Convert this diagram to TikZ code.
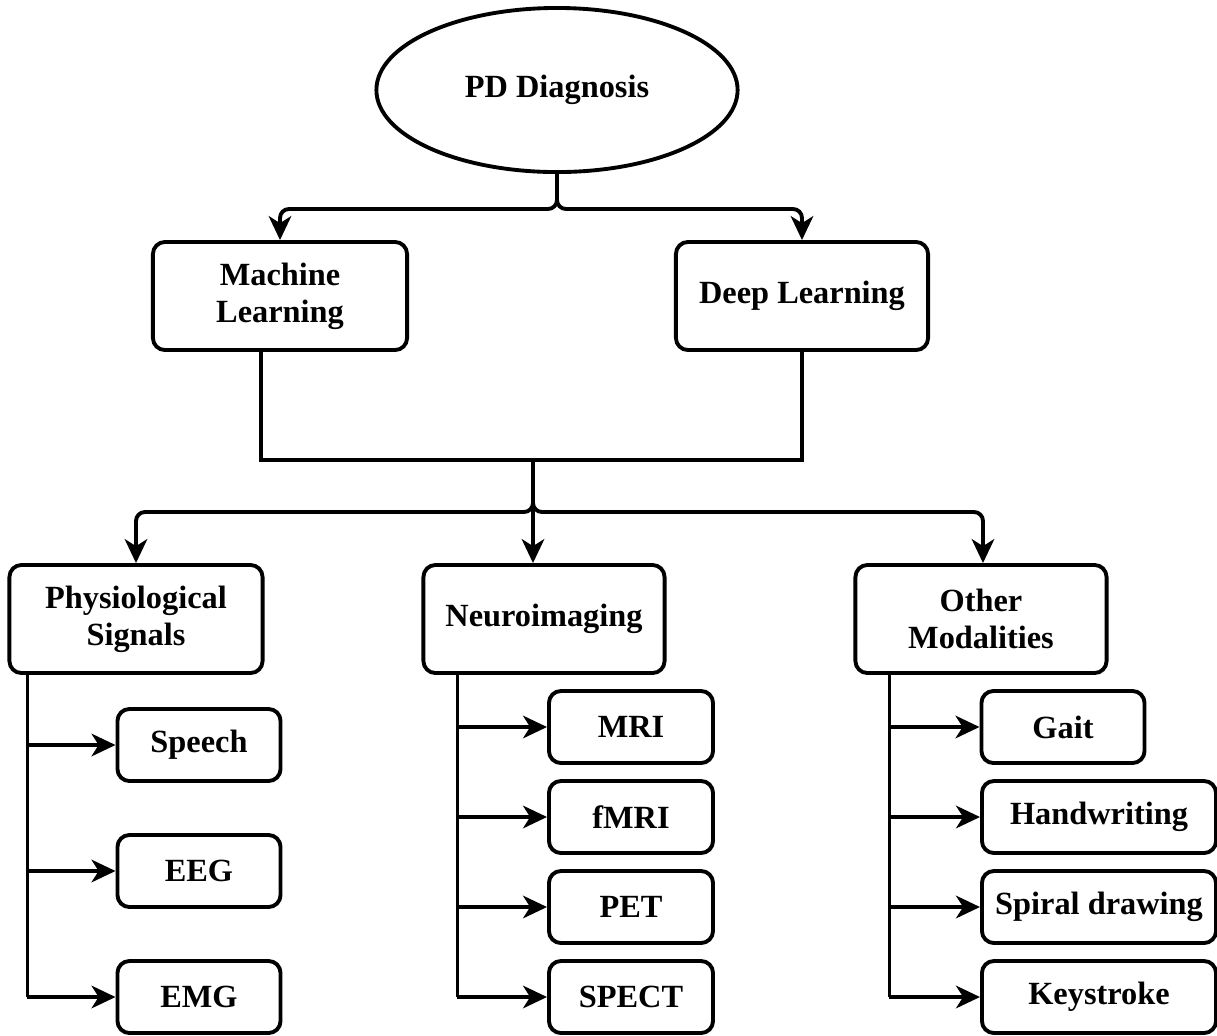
\documentclass[tikz,border=0pt]{standalone}
\usepackage{fontspec}
\setmainfont{Liberation Serif}
\usetikzlibrary{calc,shapes,arrows.meta}

\begin{document}
\begin{tikzpicture}[x=0.01cm,y=-0.01cm]
  \tikzset{box/.style={draw, line width=1.1pt, rounded corners=0.12cm, align=center,
      inner sep=0pt, font=\bfseries\fontsize{9.2}{10.5}\selectfont},
    group/.style={box, minimum width=2.52cm, minimum height=1.08cm},
    leaf/.style={box, minimum width=1.63cm, minimum height=0.72cm},
    wire/.style={line width=1.1pt},
    link/.style={wire, -{Stealth[length=6.8pt,width=6.4pt,inset=2pt]}}}
  \useasboundingbox (0,0) rectangle (1217,1035);

  %% Root and the two method boxes
  \node[draw, ellipse, line width=1.1pt, minimum width=3.61cm, minimum height=1.64cm,
    font=\bfseries\fontsize{9.2}{10.5}\selectfont] (PD) at (557,90) {PD Diagnosis};
  \node[group, minimum width=2.54cm] (ML) at (280,296) {Machine\\Learning};
  \node[group] (DL) at (802,296) {Deep Learning};

  \coordinate (SPLIT) at ($(PD.south)+(0,35)$);
  \draw[link, rounded corners=0.09cm] (PD.south) -- (SPLIT) -| (ML.north);
  \draw[link, rounded corners=0.09cm] (PD.south) -- (SPLIT) -| (DL.north);

  %% Joining both methods
  \coordinate (JOIN) at ($(ML.south)+(-19,108)$);
  \draw[wire] ($(ML.south)+(-19,0)$) -- (JOIN) -| (DL.south);
  \coordinate (MID) at (533,458);

  %% The three data groups
  \node[group, minimum width=2.53cm] (PS) at (136,619) {Physiological\\Signals};
  \node[group, minimum width=2.41cm] (NI) at (544,619) {Neuroimaging};
  \node[group, minimum width=2.51cm] (OM) at (981,619) {Other\\Modalities};

  \coordinate (FORK) at ($(MID)+(0,54)$);
  \draw[link, rounded corners=0.09cm] (MID) -- (FORK) -| (PS.north);
  \draw[link, rounded corners=0.09cm] (MID) -- (FORK) -| ($(OM.north)+(2,0)$);
  \draw[link] (MID) -- (MID |- NI.north);

  %% Leaves of each group
  \coordinate (PSspine) at ($(PS.south west)+(20,0)$);
  \foreach \name/\txt/\y in {SP/Speech/745, EEG/EEG/871, EMG/EMG/997}
  {
    \node[leaf] (\name) at (199,\y) {\txt};
    \draw[link] (PSspine |- \name.west) -- (\name.west);
  }
  \draw[wire] (PSspine) -- (PSspine |- EMG.west);

  \coordinate (NIspine) at ($(NI.south west)+(36,0)$);
  \foreach \name/\txt/\y in {MRI/MRI/727, FMRI/fMRI/817, PET/PET/907, SPECT/SPECT/997}
  {
    \node[leaf, minimum width=1.64cm] (\name) at (631,\y) {\txt};
    \draw[link] (NIspine |- \name.west) -- (\name.west);
  }
  \draw[wire] (NIspine) -- (NIspine |- SPECT.west);

  \coordinate (OMspine) at ($(OM.south west)+(36,0)$);
  \node[leaf] (GAIT) at (1063,727) {Gait};
  \foreach \name/\txt/\y in {HW/Handwriting/817, SD/Spiral drawing/907, KS/Keystroke/997}
  {
    \node[leaf, minimum width=2.34cm] (\name) at (1099,\y) {\txt};
  }
  \foreach \name in {GAIT,HW,SD,KS}
    \draw[link] (OMspine |- \name.west) -- (\name.west);
  \draw[wire] (OMspine) -- (OMspine |- KS.west);
\end{tikzpicture}
\end{document}
